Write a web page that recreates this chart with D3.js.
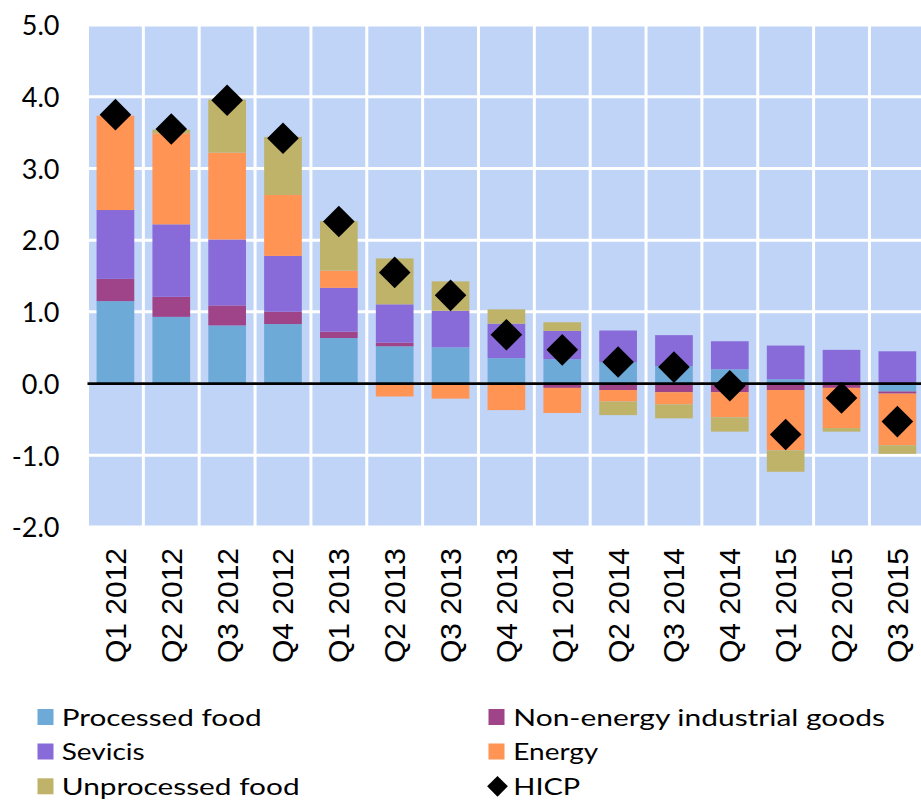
<!DOCTYPE html>
<html>
<head>
<meta charset="utf-8">
<script src="https://cdn.jsdelivr.net/npm/d3@7"></script>
<style>
  html, body { margin: 0; padding: 0; background: #ffffff; }
  svg { display: block; }
</style>
</head>
<body>
<svg id="chart" width="921" height="805"></svg>
<script>
// Contributions to HICP inflation (percentage points), quarterly
const categories = ["Q1 2012","Q2 2012","Q3 2012","Q4 2012","Q1 2013","Q2 2013","Q3 2013","Q4 2013",
                    "Q1 2014","Q2 2014","Q3 2014","Q4 2014","Q1 2015","Q2 2015","Q3 2015"];
const processedFood = [1.15, 0.93, 0.81, 0.83, 0.635, 0.52, 0.505, 0.355, 0.34, 0.30, 0.245, 0.20, 0.06, 0.00, -0.11];
const nonEnergyGoods = [0.31, 0.28, 0.28, 0.17, 0.09, 0.05, 0.00, -0.02, -0.06, -0.09, -0.12, -0.12, -0.09, -0.06, -0.03];
const services = [0.96, 1.01, 0.92, 0.78, 0.61, 0.535, 0.51, 0.48, 0.395, 0.44, 0.43, 0.39, 0.47, 0.47, 0.45];
const energy = [1.315, 1.27, 1.21, 0.85, 0.24, -0.18, -0.21, -0.35, -0.35, -0.16, -0.17, -0.35, -0.84, -0.56, -0.72];
const unprocessedFood = [0.00, 0.05, 0.74, 0.81, 0.69, 0.64, 0.41, 0.20, 0.12, -0.19, -0.195, -0.20, -0.30, -0.05, -0.12];
const hicp = [3.75, 3.55, 3.95, 3.42, 2.26, 1.55, 1.23, 0.68, 0.47, 0.30, 0.23, -0.03, -0.71, -0.20, -0.53];
const yTicks = [-2, -1, 0, 1, 2, 3, 4, 5];

const seriesKeys = ["Processed food", "Non-energy industrial goods", "Sevicis", "Energy", "Unprocessed food"];
const seriesValues = [processedFood, nonEnergyGoods, services, energy, unprocessedFood];
const seriesColors = ["#6eaad8", "#a0448a", "#886bd8", "#ff9455", "#bfb36a"];

const rows = categories.map((c, i) => {
  const r = { cat: c, hicp: hicp[i] };
  seriesKeys.forEach((k, j) => { r[k] = seriesValues[j][i]; });
  return r;
});

const svg = d3.select("#chart");

const x = d3.scaleBand()
  .domain(categories)
  .range([87.5, 925.3])
  .paddingInner(0.325)
  .paddingOuter(0.1625);

const y = d3.scaleLinear().domain([-2, 5]).range([527, 25]);

const x0 = x.range()[0], x1 = x.range()[1];
const gap = (x.step() - x.bandwidth()) / 2;

// plot background
svg.append("rect")
  .attr("x", x0).attr("y", y(5))
  .attr("width", x1 - x0).attr("height", y(-2) - y(5))
  .attr("fill", "#c0d4f7");

// white grid
const grid = svg.append("g").attr("stroke", "#ffffff").attr("stroke-width", 3);
grid.selectAll("line.h").data(yTicks).join("line")
  .attr("class", "h")
  .attr("x1", x0).attr("x2", x1)
  .attr("y1", d => y(d)).attr("y2", d => y(d));
const bounds = categories.map(c => x(c) - gap).concat([x(categories[categories.length - 1]) + x.bandwidth() + gap]);
grid.selectAll("line.v").data(bounds).join("line")
  .attr("class", "v")
  .attr("x1", d => d).attr("x2", d => d)
  .attr("y1", y(5)).attr("y2", y(-2));

// stacked contributions (positive up, negative down)
const stack = d3.stack().keys(seriesKeys).offset(d3.stackOffsetDiverging);
const layers = stack(rows);

svg.append("g").selectAll("g").data(layers).join("g")
  .attr("fill", (d, i) => seriesColors[i])
  .selectAll("rect").data(d => d).join("rect")
  .attr("x", d => x(d.data.cat))
  .attr("width", x.bandwidth())
  .attr("y", d => y(Math.max(d[0], d[1])))
  .attr("height", d => Math.abs(y(d[0]) - y(d[1])));

// zero line
svg.append("line")
  .attr("x1", x0).attr("x2", 921)
  .attr("y1", y(0)).attr("y2", y(0))
  .attr("stroke", "#000").attr("stroke-width", 2.8);

// HICP diamonds
const diamond = d3.symbol().type(d3.symbolSquare).size(500);
svg.append("g").selectAll("path").data(rows).join("path")
  .attr("d", diamond)
  .attr("fill", "#000")
  .attr("transform", d => `translate(${x(d.cat) + x.bandwidth() / 2},${y(d.hicp)}) rotate(45)`);

// y axis labels
const yAxis = svg.append("g")
  .attr("transform", `translate(${x0},0)`)
  .call(d3.axisLeft(y).tickValues(yTicks).tickSize(0).tickPadding(28).tickFormat(d => d.toFixed(1)));
yAxis.select(".domain").remove();
yAxis.selectAll("text")
  .attr("font-family", "Lato, 'Open Sans', sans-serif")
  .attr("font-size", 27)
  .attr("fill", "#000")
  .attr("dy", "0.36em");

// x axis labels, vertical
const xAxis = svg.append("g")
  .attr("transform", `translate(0,${y(-2)})`)
  .call(d3.axisBottom(x).tickSize(0));
xAxis.select(".domain").remove();
xAxis.selectAll("text")
  .attr("font-family", "'Liberation Sans', Arial, sans-serif")
  .attr("font-size", 30)
  .attr("fill", "#000")
  .attr("text-anchor", "end")
  .attr("transform", "rotate(-90)")
  .attr("x", -21)
  .attr("y", 0)
  .attr("dy", "0.35em");

// legend
const legendItems = [
  { name: "Processed food", color: seriesColors[0], col: 0, row: 0, w: 200 },
  { name: "Non-energy industrial goods", color: seriesColors[1], col: 1, row: 0, w: 372 },
  { name: "Sevicis", color: seriesColors[2], col: 0, row: 1, w: 83 },
  { name: "Energy", color: seriesColors[3], col: 1, row: 1, w: 85 },
  { name: "Unprocessed food", color: seriesColors[4], col: 0, row: 2, w: 238 },
  { name: "HICP", color: "#000", col: 1, row: 2, w: 67, diamond: true }
];
const colX = [37.5, 488.5];
const textX = [61.7, 513.3];
const rowY = [717, 751.5, 786.3];

const lg = svg.append("g");
legendItems.forEach(it => {
  const cx = colX[it.col], cy = rowY[it.row];
  if (it.diamond) {
    lg.append("path")
      .attr("d", d3.symbol().type(d3.symbolSquare).size(215)())
      .attr("fill", "#000")
      .attr("transform", `translate(${cx + 9},${cy}) rotate(45)`);
  } else {
    lg.append("rect")
      .attr("x", cx).attr("y", cy - 8)
      .attr("width", 16).attr("height", 16)
      .attr("fill", it.color);
  }
  // label text, widened horizontally to its set width
  const t = lg.append("text")
    .attr("x", 0)
    .attr("y", 0)
    .attr("font-family", "Lato, 'Open Sans', sans-serif")
    .attr("font-size", 23.5)
    .attr("fill", "#000")
    .text(it.name);
  const natural = t.node().getComputedTextLength();
  t.attr("transform", `translate(${textX[it.col]},${cy + 8.7}) scale(${it.w / natural},1)`);
});
</script>
</body>
</html>
